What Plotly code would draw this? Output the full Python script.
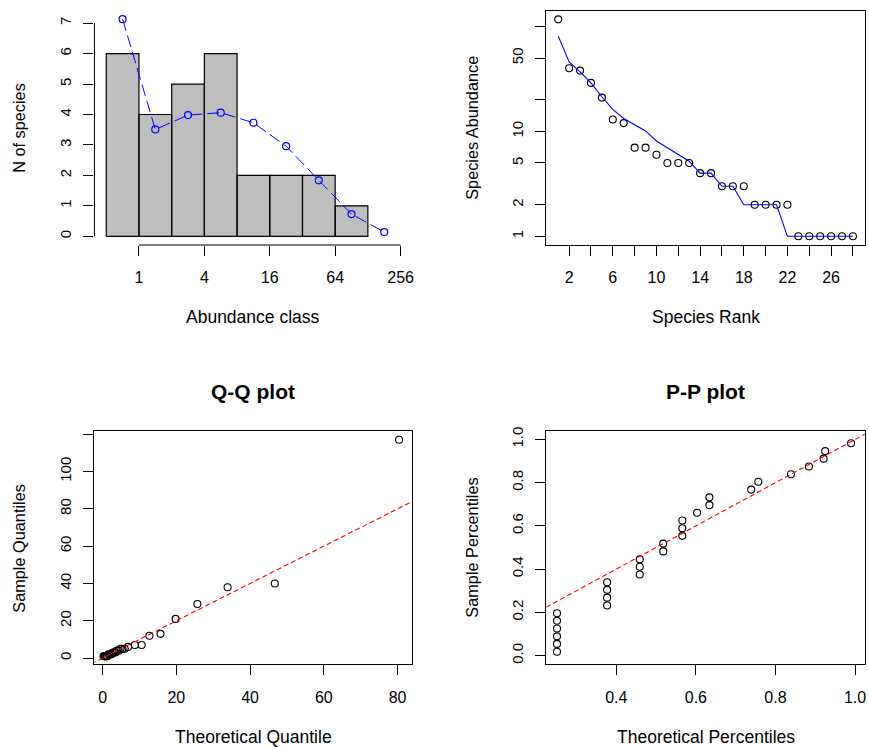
import numpy as np
import plotly.graph_objects as go

# ---------------- data ----------------
# Octave-class histogram
class_lower = [0.5, 1, 2, 4, 8, 16, 32, 64]
class_upper = [1, 2, 4, 8, 16, 32, 64, 128]
class_counts = [6, 4, 5, 6, 2, 2, 2, 1]
curve_x = [0.707, 1.414, 2.828, 5.657, 11.31, 22.63, 45.25, 90.51, 181.0]
curve_y = [7.13, 3.51, 3.98, 4.06, 3.73, 2.96, 1.84, 0.73, 0.14]
hist_xticks = [1, 4, 16, 64, 256]
hist_yticks = [0, 1, 2, 3, 4, 5, 6, 7]

# Rank-abundance
ranks = [1, 2, 3, 4, 5, 6, 7, 8, 9, 10, 11, 12, 13, 14, 15, 16, 17, 18, 19, 20,
         21, 22, 23, 24, 25, 26, 27, 28]
abundance = [117, 40, 38, 29, 21, 13, 12, 7, 7, 6, 5, 5, 5, 4, 4, 3, 3, 3, 2, 2,
             2, 2, 1, 1, 1, 1, 1, 1]
fitted = [81, 46, 37, 29, 21.4, 16.2, 13.3, 11.5, 10.1, 8.1, 7.0, 6.1, 5.2, 4, 4,
          3, 3, 2, 2, 2, 2, 1, 1, 1, 1, 1, 1, 1]
rank_xticks = [2, 4, 6, 8, 10, 12, 14, 16, 18, 20, 22, 24, 26, 28]
rank_xlabels = ["2", "", "6", "", "10", "", "14", "", "18", "", "22", "", "26", ""]
rank_yticks = [1, 2, 5, 10, 20, 50, 100]
rank_ylabels = ["1", "2", "5", "10", "", "50", ""]

# Q-Q plot
qq_theoretical = [0.25, 0.45, 0.65, 0.85, 1.05, 1.3, 1.55, 1.8, 2.1, 2.4, 2.75, 3.1,
                  3.5, 3.9, 4.35, 4.85, 5.4, 6.0, 6.9, 8.75, 10.6, 12.7, 15.7, 19.8,
                  25.7, 33.9, 46.7, 80.4]
qq_sample = [1, 1, 1, 1, 1, 1, 2, 2, 2, 2, 3, 3, 3, 4, 4, 5, 5, 5, 6, 7, 7, 12, 13,
             21, 29, 38, 40, 117]
qq_xticks = [0, 20, 40, 60, 80]
qq_yticks = [0, 20, 40, 60, 80, 100, 120]
qq_ylabels = ["0", "20", "40", "60", "80", "100", ""]

# P-P plot
pp_theoretical = [0.251, 0.251, 0.251, 0.251, 0.251, 0.251, 0.377, 0.377, 0.377, 0.377,
                  0.459, 0.459, 0.459, 0.518, 0.518, 0.566, 0.566, 0.566, 0.603, 0.634,
                  0.634, 0.739, 0.757, 0.839, 0.884, 0.921, 0.925, 0.990]
pp_sample = [0.018, 0.054, 0.089, 0.125, 0.161, 0.196, 0.232, 0.268, 0.304, 0.339,
             0.375, 0.411, 0.446, 0.482, 0.518, 0.554, 0.589, 0.625, 0.661, 0.696,
             0.732, 0.768, 0.804, 0.839, 0.875, 0.911, 0.946, 0.982]
pp_xticks = [0.4, 0.6, 0.8, 1.0]
pp_yticks = [0.0, 0.2, 0.4, 0.6, 0.8, 1.0]

ref_intercept = 0.0
ref_slope = 1.0

# ---------------- layout helpers ----------------
W, H = 869, 747
FONT = "Liberation Sans, Arial, sans-serif"

def fx(px):
    return px / W

def fy(py):
    return 1 - py / H

LX = [fx(94.7), fx(413.3)]
RX = [fx(547.7), fx(866.7)]
TY = [fy(242.3), fy(6.7)]
BY = [fy(664.0), fy(429.3)]

fig = go.Figure()

# histogram bars as rectangles on a log axis
bx, by = [], []
for lo, hi, c in zip(class_lower, class_upper, class_counts):
    bx += [lo, lo, hi, hi, lo, None]
    by += [0, c, c, 0, 0, None]
fig.add_trace(go.Scatter(x=bx, y=by, mode="lines", fill="toself",
                         fillcolor="#BEBEBE", line=dict(color="black", width=1.2),
                         xaxis="x", yaxis="y", hoverinfo="skip"))
fig.add_trace(go.Scatter(x=curve_x, y=curve_y, mode="lines+markers",
                         line=dict(color="blue", width=1, dash="12px,5px"),
                         marker=dict(symbol="circle-open", size=7, color="blue",
                                     line=dict(width=1.2)),
                         xaxis="x", yaxis="y", cliponaxis=False))

# rank abundance
fig.add_trace(go.Scatter(x=ranks, y=abundance, mode="markers",
                         marker=dict(symbol="circle-open", size=7, color="black",
                                     line=dict(width=1.1)),
                         xaxis="x2", yaxis="y2"))
fig.add_trace(go.Scatter(x=ranks, y=fitted, mode="lines",
                         line=dict(color="blue", width=1.1),
                         xaxis="x2", yaxis="y2"))

# Q-Q
qq_xr = [-2.2, 84.0]
qq_yr = [-3.4, 121.7]
lx = np.array([-1000.0, 1000.0])
fig.add_trace(go.Scatter(x=qq_theoretical, y=qq_sample, mode="markers",
                         marker=dict(symbol="circle-open", size=7, color="black",
                                     line=dict(width=1.1)),
                         xaxis="x3", yaxis="y3"))
fig.add_trace(go.Scatter(x=lx, y=ref_intercept + ref_slope * lx, mode="lines",
                         line=dict(color="red", width=1.1, dash="5px,3px"),
                         xaxis="x3", yaxis="y3"))

# P-P
pp_xr = [0.2245, 1.0243]
pp_yr = [-0.041, 1.039]
fig.add_trace(go.Scatter(x=pp_theoretical, y=pp_sample, mode="markers",
                         marker=dict(symbol="circle-open", size=7, color="black",
                                     line=dict(width=1.1)),
                         xaxis="x4", yaxis="y4"))
fig.add_trace(go.Scatter(x=lx, y=ref_intercept + ref_slope * lx, mode="lines",
                         line=dict(color="red", width=1.1, dash="5px,3px"),
                         xaxis="x4", yaxis="y4"))

XTF = dict(family=FONT, size=16, color="black")
YTF = dict(family=FONT, size=15, color="black")

def xax(domain, anchor, box=True, **kw):
    d = dict(domain=domain, anchor=anchor, showgrid=False, zeroline=False,
             ticks="outside", ticklen=10, tickwidth=1, tickcolor="black",
             tickfont=XTF, ticklabelstandoff=8,
             showline=box, mirror=box, linecolor="black", linewidth=1)
    d.update(kw)
    return d

def yax(domain, anchor, box=True, **kw):
    d = dict(domain=domain, anchor=anchor, showgrid=False, zeroline=False,
             ticks="outside", ticklen=10, tickwidth=1, tickcolor="black",
             tickfont=YTF, tickangle=-90, ticklabelstandoff=6,
             showline=box, mirror=box, linecolor="black", linewidth=1)
    d.update(kw)
    return d

l2 = np.log10(2)
fig.update_layout(
    width=W, height=H, margin=dict(l=0, r=0, t=0, b=0),
    paper_bgcolor="white", plot_bgcolor="white", showlegend=False,
    xaxis=xax(LX, "y", box=False, type="log", range=[-1.36 * l2, 8.36 * l2],
              tickvals=hist_xticks, ticktext=[str(v) for v in hist_xticks]),
    yaxis=yax(TY, "x", box=False, range=[-0.285, 7.41], tickvals=hist_yticks),
    xaxis2=xax(RX, "y2", range=[-0.08, 29.08], tickvals=rank_xticks,
               ticktext=rank_xlabels),
    yaxis2=yax(TY, "x2", type="log", range=[-0.0827, 2.151], tickvals=rank_yticks,
               ticktext=rank_ylabels),
    xaxis3=xax(LX, "y3", range=qq_xr, tickvals=qq_xticks),
    yaxis3=yax(BY, "x3", range=qq_yr, tickvals=qq_yticks, ticktext=qq_ylabels),
    xaxis4=xax(RX, "y4", range=pp_xr, tickvals=pp_xticks,
               ticktext=["0.4", "0.6", "0.8", "1.0"]),
    yaxis4=yax(BY, "x4", range=pp_yr, tickvals=pp_yticks,
               ticktext=["0.0", "0.2", "0.4", "0.6", "0.8", "1.0"]),
)

# R-style axis segments for the histogram
fig.add_shape(type="line", xref="x", yref="y domain", x0=min(hist_xticks),
              x1=max(hist_xticks), y0=0, y1=0, line=dict(color="black", width=1))
fig.add_shape(type="line", xref="x domain", yref="y", x0=0, x1=0,
              y0=min(hist_yticks), y1=max(hist_yticks), line=dict(color="black", width=1))

LAB_X = dict(family=FONT, size=17.5, color="black")
LAB_Y = dict(family=FONT, size=16.3, color="black")
TTL = dict(family=FONT, size=21, color="black", weight="bold")

def ann(text, x, y, font, angle=0):
    fig.add_annotation(text=text, x=fx(x), y=fy(y), xref="paper", yref="paper",
                       showarrow=False, xanchor="center", yanchor="middle",
                       textangle=angle, font=font)

cxL = (94.7 + 413.3) / 2
cxR = (547.7 + 866.7) / 2
cyT = (6.7 + 242.3) / 2
cyB = (429.3 + 664.0) / 2
ann("Abundance class", cxL, 315, LAB_X)
ann("Species Rank", cxR, 315, LAB_X)
ann("Theoretical Quantile", cxL, 737, LAB_X)
ann("Theoretical Percentiles", cxR, 737, LAB_X)
ann("N of species", 19, cyT, LAB_Y, -90)
ann("Species Abundance", 473, cyT, LAB_Y, -90)
ann("Sample Quantiles", 19, cyB, LAB_Y, -90)
ann("Sample Percentiles", 473, cyB, LAB_Y, -90)
ann("Q-Q plot", cxL, 390, TTL)
ann("P-P plot", cxR, 390, TTL)

fig.write_html("out.html", config={"displayModeBar": False},
               post_script="document.body.style.margin='0px';document.body.style.overflow='hidden';")
